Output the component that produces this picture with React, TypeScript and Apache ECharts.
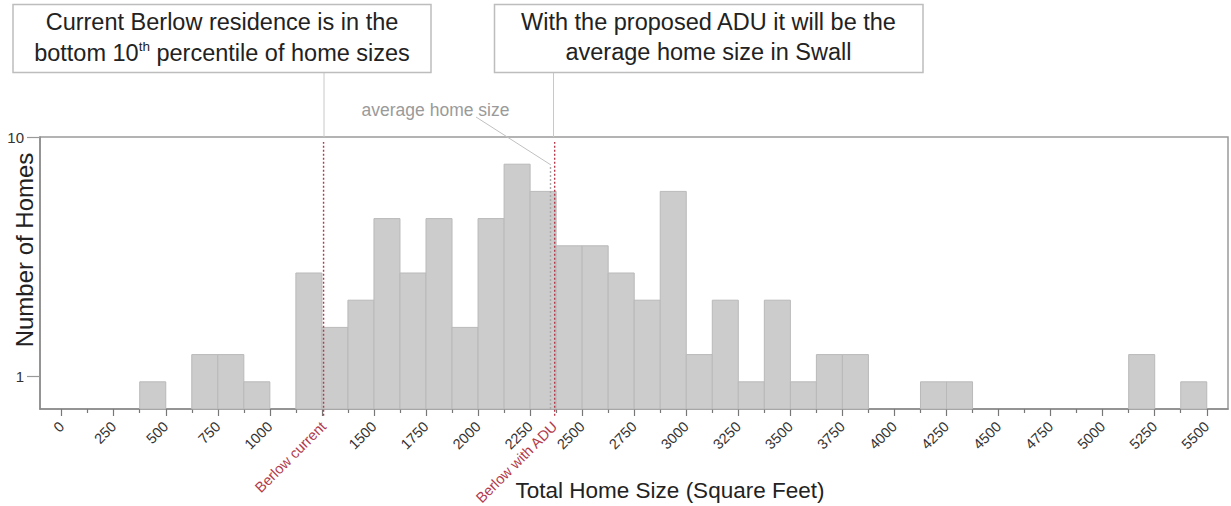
import React, { useEffect, useRef } from "react";
import * as echarts from "echarts";

// ---- data ----
const binWidth = 125;
const binStarts = [
  375, 625, 750, 875, 1125, 1250, 1375, 1500, 1625, 1750, 1875, 2000, 2125, 2250, 2375,
  2500, 2625, 2750, 2875, 3000, 3125, 3250, 3375, 3500, 3625, 3750, 4125, 4250, 5125, 5375,
];
const homeCounts = [
  1, 2, 2, 1, 5, 3, 4, 7, 5, 7, 3, 7, 9, 8, 6,
  6, 5, 4, 8, 2, 4, 1, 4, 1, 2, 2, 1, 1, 2, 1,
];
const xTickValues = [
  0, 250, 500, 750, 1000, 1250, 1500, 1750, 2000, 2250, 2500, 2750, 3000, 3250, 3500,
  3750, 4000, 4250, 4500, 4750, 5000, 5250, 5500,
];
const xMinorTickValues = [
  125, 375, 625, 875, 1125, 1375, 1625, 1875, 2125, 2375, 2625, 2875, 3125, 3375, 3625,
  3875, 4125, 4375, 4625, 4875, 5125, 5375,
];
const yTickValues = [1.2, 10];
const yTickLabels = ["1", "10"];
const berlowCurrent = 1258;
const berlowWithAdu = 2368;
const averageHomeSize = 2348;
const berlowCurrentLabel = "Berlow current";
const berlowWithAduLabel = "Berlow with ADU";

const FONT = "'Liberation Sans', Arial, Helvetica, sans-serif";
const RED = "#b23a4c";

export default function App() {
  const ref = useRef<HTMLDivElement>(null);

  useEffect(() => {
    if (!ref.current) return;
    const chart = echarts.init(ref.current, undefined, { renderer: "svg" });

    const barData = binStarts.map((s, i) => [s, s + binWidth, homeCounts[i]]);
    const xLabelValues = xTickValues
      .filter((v) => v !== 1250)
      .concat([berlowCurrent, berlowWithAdu])
      .sort((a, b) => a - b);

    const option: any = {
      animation: false,
      textStyle: { fontFamily: FONT },
      grid: {
        left: 40,
        right: 3,
        top: 137,
        bottom: 97,
        containLabel: false,
        outerBoundsMode: "none",
        show: true,
        borderColor: "#9a9a9a",
        borderWidth: 1.5,
        backgroundColor: "transparent",
      },
      xAxis: [
        {
          type: "value",
          min: -104,
          max: 5602,
          position: "bottom",
          axisLine: { show: true, onZero: false, lineStyle: { color: "#8a8a8a", width: 1.5 } },
          axisTick: {
            show: true,
            customValues: xTickValues,
            length: 7,
            lineStyle: { color: "#777", width: 1.2 },
          },
          splitLine: { show: false },
          axisLabel: {
            customValues: xLabelValues,
            rotate: 45,
            margin: 15,
            fontSize: 14.5,
            color: "#333",
            fontFamily: FONT,
            formatter: (v: number) => {
              if (v === berlowCurrent) return "{r|" + berlowCurrentLabel + "}";
              if (v === berlowWithAdu) return "{r|" + berlowWithAduLabel + "}";
              return String(v);
            },
            rich: { r: { color: RED, fontSize: 14.5, fontFamily: FONT } },
          },
        },
        {
          type: "value",
          min: -104,
          max: 5602,
          position: "bottom",
          offset: 0,
          axisLine: { show: false, onZero: false },
          axisTick: {
            show: true,
            customValues: xMinorTickValues,
            length: 4,
            lineStyle: { color: "#777", width: 1.2 },
          },
          axisLabel: { show: false },
          splitLine: { show: false },
        },
      ],
      yAxis: {
        type: "value",
        min: 0,
        max: 10,
        position: "left",
        axisLine: { show: true, onZero: false, lineStyle: { color: "#8a8a8a", width: 1.5 } },
        axisTick: {
          show: true,
          customValues: yTickValues,
          length: 13,
          lineStyle: { color: "#999", width: 1.2 },
        },
        axisLabel: {
          customValues: yTickValues,
          margin: 16,
          fontSize: 15,
          color: "#333",
          fontFamily: FONT,
          formatter: (v: number) => {
            const i = yTickValues.indexOf(v);
            return i >= 0 ? yTickLabels[i] : "";
          },
        },
        splitLine: { show: false },
      },
      series: [
        {
          type: "custom",
          xAxisIndex: 0,
          data: barData,
          renderItem: (params: any, api: any) => {
            const x0 = api.value(0);
            const x1 = api.value(1);
            const c = api.value(2);
            const p0 = api.coord([x0, c]);
            const p1 = api.coord([x1, 0]);
            return {
              type: "rect",
              shape: { x: p0[0], y: p0[1], width: p1[0] - p0[0], height: p1[1] - p0[1] },
              style: { fill: "#cccccc", stroke: "#b9b9b9", lineWidth: 1 },
            };
          },
          z: 2,
        },
        {
          type: "line",
          xAxisIndex: 0,
          data: [
            [averageHomeSize, 0],
            [averageHomeSize, 8.95],
          ],
          symbol: "none",
          clip: false,
          silent: true,
          lineStyle: { color: "#a8a8a8", width: 1.4, type: [2, 2] },
          z: 3,
        },
        {
          type: "line",
          xAxisIndex: 0,
          data: [
            [berlowCurrent, -0.25],
            [berlowCurrent, 9.82],
          ],
          symbol: "none",
          clip: false,
          silent: true,
          lineStyle: { color: RED, width: 1.4, type: [2, 2] },
          z: 4,
        },
        {
          type: "line",
          xAxisIndex: 0,
          data: [
            [berlowWithAdu, -0.25],
            [berlowWithAdu, 9.82],
          ],
          symbol: "none",
          clip: false,
          silent: true,
          lineStyle: { color: RED, width: 1.4, type: [2, 2] },
          z: 4,
        },
      ],
      graphic: [
        {
          type: "line",
          shape: { x1: 324, y1: 72.5, x2: 324, y2: 137 },
          style: { stroke: "#c8c8c8", lineWidth: 1 },
        },
        {
          type: "line",
          shape: { x1: 553.5, y1: 72.5, x2: 553.5, y2: 137 },
          style: { stroke: "#c8c8c8", lineWidth: 1 },
        },
        {
          type: "rect",
          shape: { x: 13, y: 4.5, width: 418, height: 68 },
          style: { fill: "#fff", stroke: "#bdbdbd", lineWidth: 1.5 },
        },
        {
          type: "rect",
          shape: { x: 494.5, y: 4.5, width: 428.5, height: 68 },
          style: { fill: "#fff", stroke: "#bdbdbd", lineWidth: 1.5 },
        },
        {
          type: "text",
          x: 222,
          y: 22,
          style: {
            text: "Current Berlow residence is in the",
            fontSize: 23.5,
            fontFamily: FONT,
            fill: "#222",
            align: "center",
            verticalAlign: "middle",
          },
        },
        {
          type: "text",
          x: 222,
          y: 53,
          style: {
            text: "{n|bottom 10}{s|th}{n| percentile of home sizes}",
            align: "center",
            verticalAlign: "middle",
            rich: {
              n: { fontSize: 23.5, fontFamily: FONT, fill: "#222", lineHeight: 27 },
              s: { fontSize: 13.5, fontFamily: FONT, fill: "#222", verticalAlign: "top", lineHeight: 14 },
            },
          },
        },
        {
          type: "text",
          x: 708.5,
          y: 22,
          style: {
            text: "With the proposed ADU it will be the",
            fontSize: 23.5,
            fontFamily: FONT,
            fill: "#222",
            align: "center",
            verticalAlign: "middle",
          },
        },
        {
          type: "text",
          x: 708.5,
          y: 52,
          style: {
            text: "average home size in Swall",
            fontSize: 23.5,
            fontFamily: FONT,
            fill: "#222",
            align: "center",
            verticalAlign: "middle",
          },
        },
        {
          type: "text",
          x: 435.5,
          y: 110,
          style: {
            text: "average home size",
            fontSize: 17.5,
            fontFamily: FONT,
            fill: "#9a9a9a",
            align: "center",
            verticalAlign: "middle",
          },
        },
        {
          type: "line",
          shape: { x1: 476, y1: 117, x2: 551, y2: 165 },
          style: { stroke: "#c0c0c0", lineWidth: 1 },
        },
        {
          type: "text",
          x: 24,
          y: 250,
          rotation: Math.PI / 2,
          style: {
            text: "Number of Homes",
            fontSize: 24,
            fontFamily: FONT,
            fill: "#222",
            align: "center",
            verticalAlign: "middle",
          },
        },
        {
          type: "text",
          x: 670,
          y: 490,
          style: {
            text: "Total Home Size (Square Feet)",
            fontSize: 22.5,
            fontFamily: FONT,
            fill: "#222",
            align: "center",
            verticalAlign: "middle",
          },
        },
      ],
    };

    chart.setOption(option);
    return () => chart.dispose();
  }, []);

  return (
    <div
      ref={ref}
      style={{ position: "fixed", left: 0, top: 0, width: 1231, height: 506, background: "#fff" }}
    />
  );
}
